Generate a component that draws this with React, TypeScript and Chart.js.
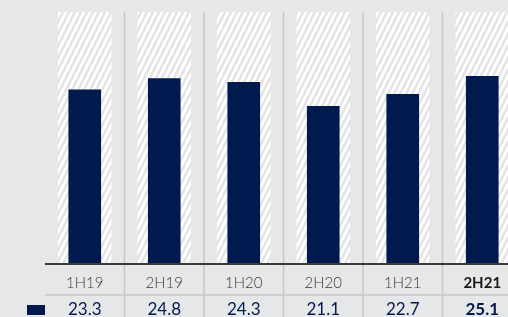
import React, { useEffect, useRef } from "react";
import { Chart, registerables } from "chart.js";

Chart.register(...registerables);

const categories = ["1H19", "2H19", "1H20", "2H20", "1H21", "2H21"];
const values = [23.3, 24.8, 24.3, 21.1, 22.7, 25.1];
const valueLabels = ["23.3", "24.8", "24.3", "21.1", "22.7", "25.1"];
const backgroundValues = [33.7, 33.7, 33.7, 33.7, 33.7, 33.7];
const boldIndex = [5];

const NAVY = "#001a4e";
const BG = "#e6e7e8";

function makePattern(): CanvasPattern | string {
  const c = document.createElement("canvas");
  const w = 6;
  const h = 12;
  c.width = w;
  c.height = h;
  const ctx = c.getContext("2d");
  if (!ctx) return "#eee";
  ctx.fillStyle = "#e5e5e6";
  ctx.fillRect(0, 0, w, h);
  ctx.strokeStyle = "#ffffff";
  ctx.lineWidth = 2.7;
  for (let k = -1; k <= 1; k++) {
    ctx.beginPath();
    ctx.moveTo(k * w, h);
    ctx.lineTo(k * w + w, 0);
    ctx.stroke();
  }
  const p = ctx.createPattern(c, "repeat");
  return p || "#eee";
}

const tablePlugin = {
  id: "tablePlugin",
  beforeDraw(chart: any) {
    const ctx = chart.ctx;
    ctx.save();
    ctx.fillStyle = BG;
    ctx.fillRect(0, 0, chart.width, chart.height);
    ctx.restore();
  },
  afterDraw(chart: any) {
    const ctx = chart.ctx;
    const x = chart.scales.x;
    const area = chart.chartArea;
    const n = categories.length;
    ctx.save();
    ctx.strokeStyle = "#c6c7c9";
    ctx.lineWidth = 1.5;
    for (let i = 0; i < n - 1; i++) {
      const sx = (x.getPixelForValue(i) + x.getPixelForValue(i + 1)) / 2;
      ctx.beginPath();
      ctx.moveTo(sx, area.top);
      ctx.lineTo(sx, chart.height);
      ctx.stroke();
    }
    ctx.beginPath();
    ctx.moveTo(area.left, area.bottom + 31);
    ctx.lineTo(chart.width, area.bottom + 31);
    ctx.stroke();
    ctx.strokeStyle = "#3a3a3a";
    ctx.lineWidth = 2;
    ctx.beginPath();
    ctx.moveTo(area.left, area.bottom);
    ctx.lineTo(chart.width, area.bottom);
    ctx.stroke();
    ctx.textAlign = "center";
    ctx.textBaseline = "middle";
    for (let i = 0; i < n; i++) {
      const cx = x.getPixelForValue(i);
      const bold = boldIndex.includes(i);
      ctx.fillStyle = bold ? "#1a1a1a" : "#3a3a3a";
      ctx.font = (bold ? "700 " : "300 ") + "15px Lato";
      ctx.fillText(categories[i], cx, area.bottom + 19);
      ctx.fillStyle = NAVY;
      ctx.font = (bold ? "700 " : "400 ") + "17px Lato";
      ctx.fillText(valueLabels[i], cx, area.bottom + 46);
    }
    ctx.fillStyle = NAVY;
    ctx.fillRect(27, area.bottom + 41, 18, 10);
    ctx.restore();
  },
};

export default function App() {
  const ref = useRef<HTMLCanvasElement | null>(null);
  useEffect(() => {
    if (!ref.current) return;
    const pattern = makePattern();
    const chart = new Chart(ref.current, {
      type: "bar",
      data: {
        labels: categories,
        datasets: [
          {
            data: values,
            backgroundColor: NAVY,
            barThickness: 32,
            grouped: false,
            order: 0,
          },
          {
            data: backgroundValues,
            backgroundColor: pattern as any,
            barThickness: 53,
            grouped: false,
            order: 1,
          },
        ],
      },
      options: {
        responsive: false,
        animation: false,
        layout: { padding: { left: 45, right: 8, top: 12, bottom: 53 } },
        plugins: { legend: { display: false }, tooltip: { enabled: false } },
        scales: {
          x: { display: false },
          y: { display: false, min: 0, max: 33.7 },
        },
      },
      plugins: [tablePlugin],
    });
    return () => chart.destroy();
  }, []);
  return (
    <div
      style={{
        position: "fixed",
        left: 0,
        top: 0,
        width: 508,
        height: 317,
        overflow: "hidden",
        background: BG,
      }}
    >
      <canvas ref={ref} width={530} height={317} style={{ width: 530, height: 317, display: "block" }} />
    </div>
  );
}
